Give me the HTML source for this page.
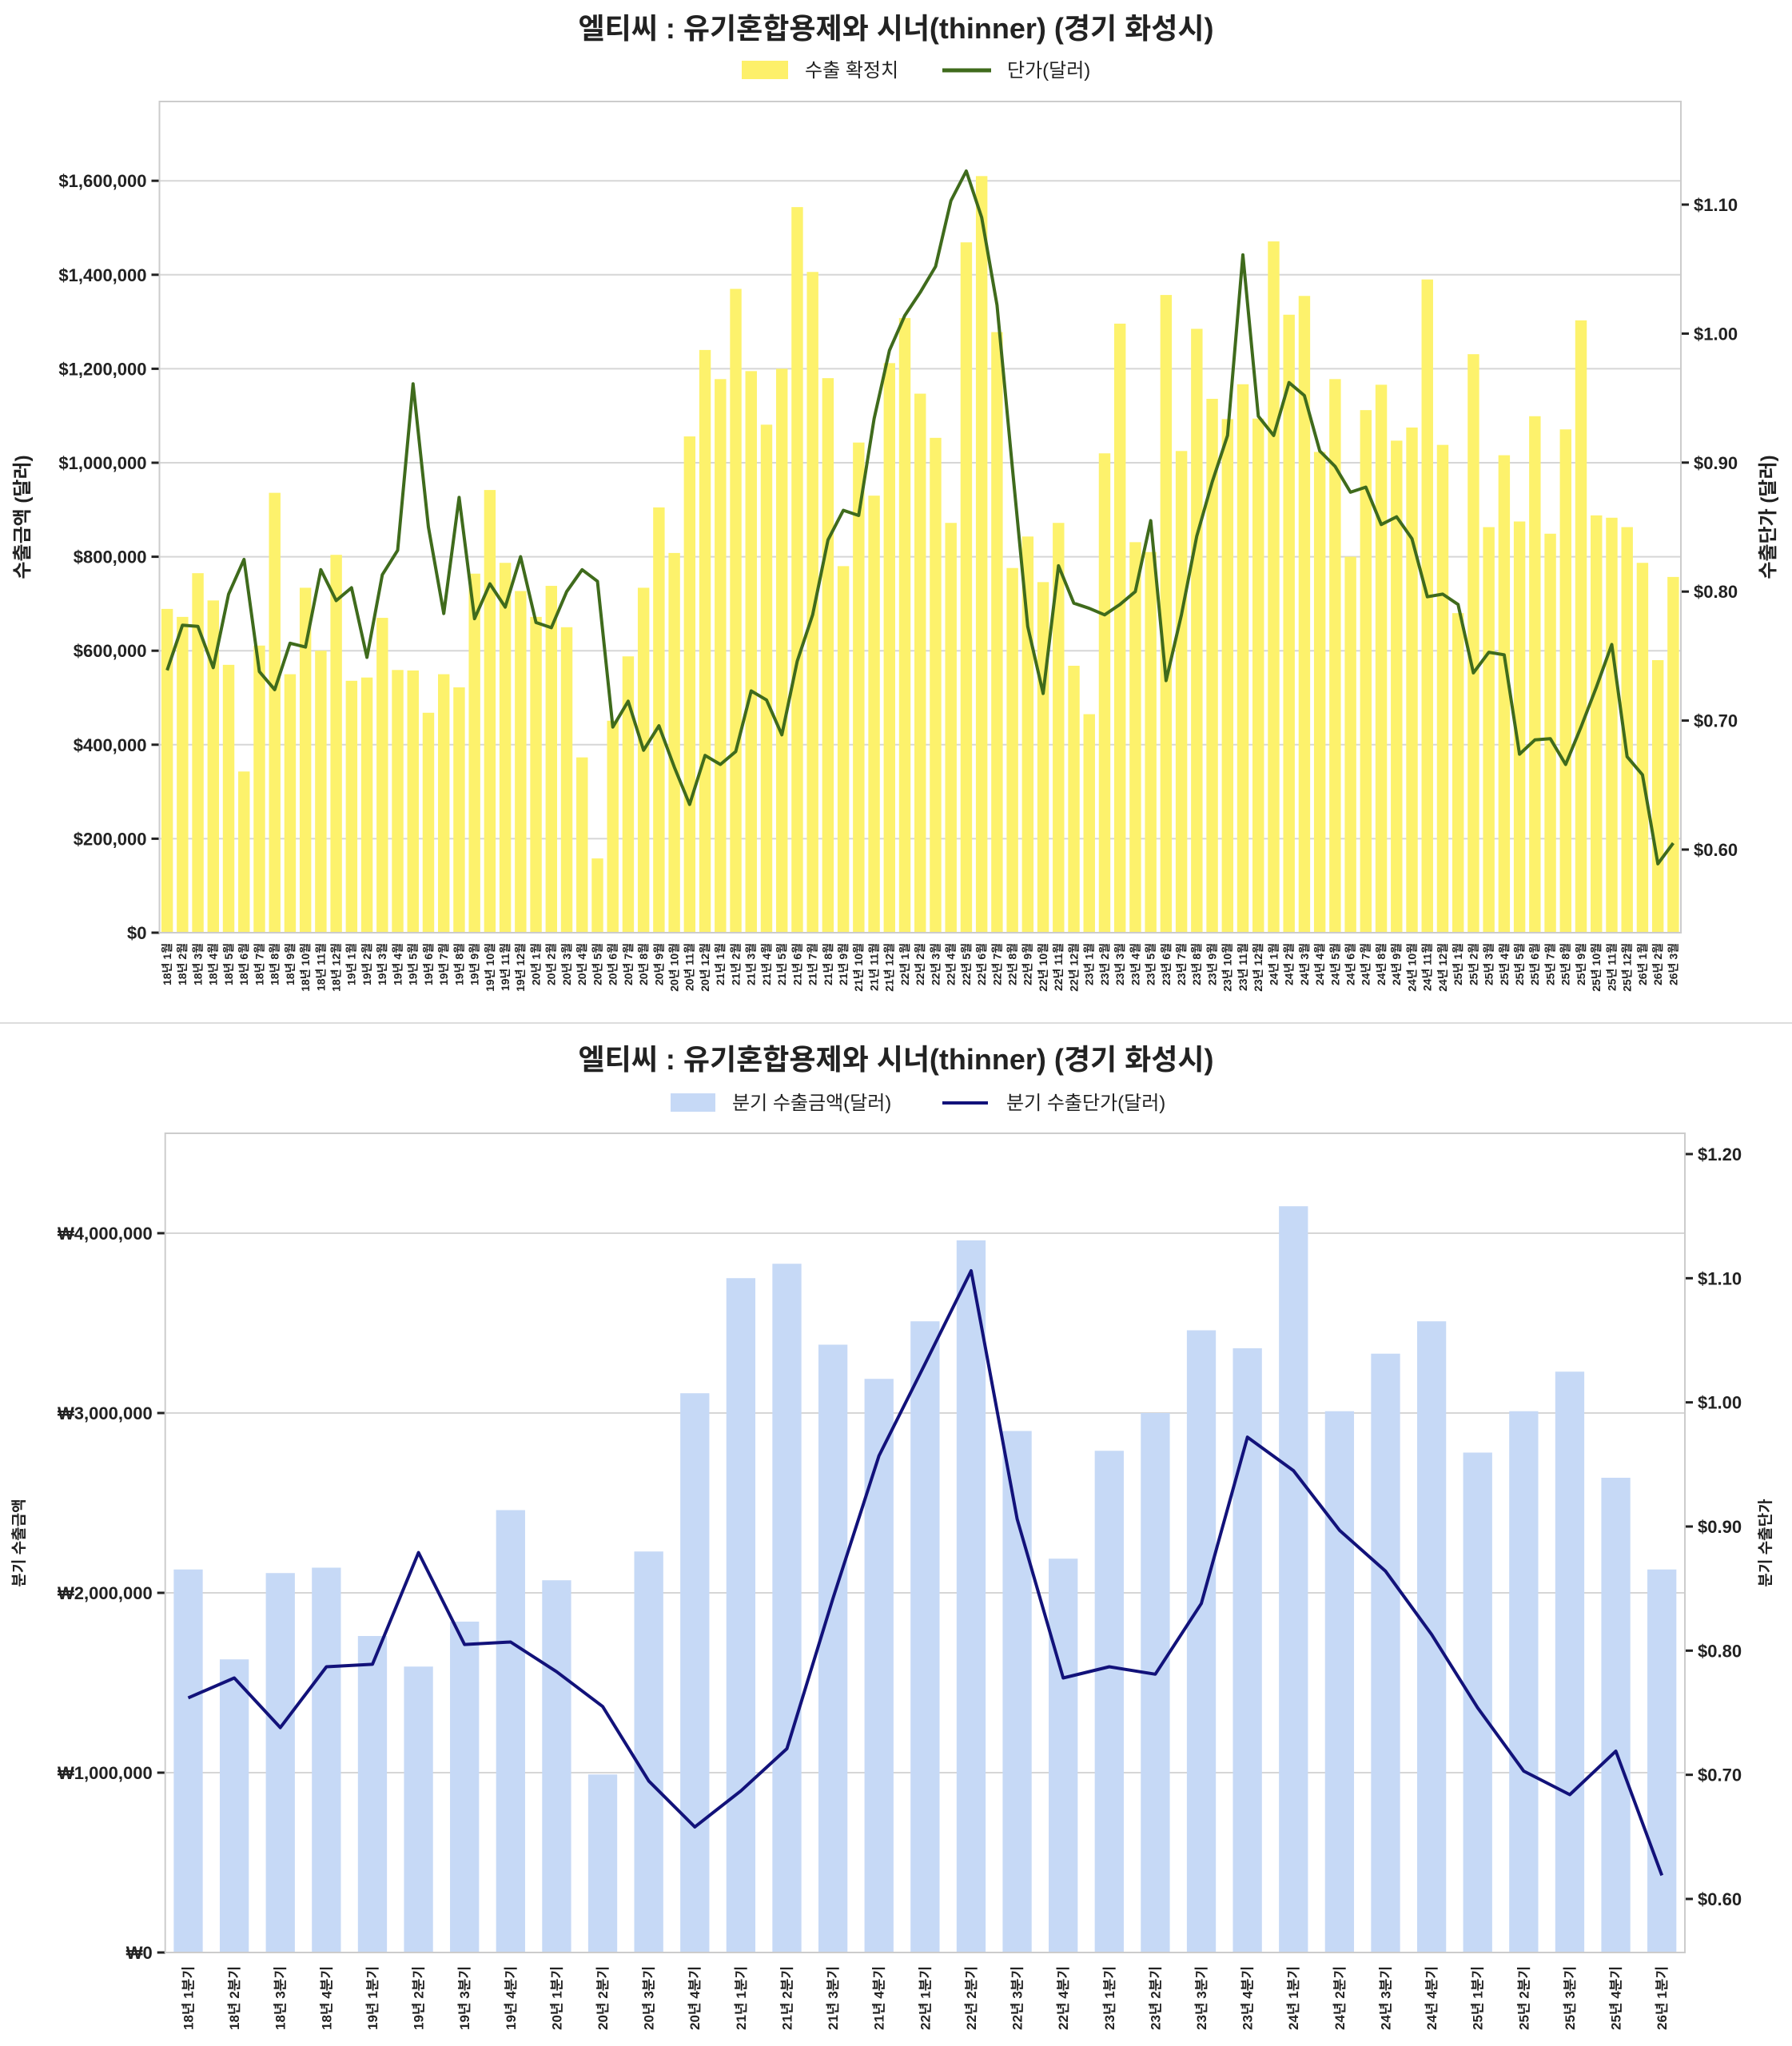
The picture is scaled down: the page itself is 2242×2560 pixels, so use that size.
<!DOCTYPE html>
<html><head><meta charset="utf-8">
<style>
html,body{margin:0;padding:0;background:#fff;}
svg{display:block;font-family:"Liberation Sans","Noto Sans CJK KR",sans-serif;}
</style></head>
<body>
<svg id="root" width="2242" height="2560" viewBox="0 0 2242 2560" xmlns="http://www.w3.org/2000/svg">
<rect x="0" y="0" width="2242" height="2560" fill="#fff"/>
<line x1="0" y1="1280" x2="2242" y2="1280" stroke="#ddd" stroke-width="2"/>
<text x="1121" y="48" text-anchor="middle" font-size="36" font-weight="bold" fill="#222">엘티씨 : 유기혼합용제와 시너(thinner) (경기 화성시)</text>
<g>
<rect x="928" y="76" width="58" height="23" fill="#fdf06a"/>
<text x="1007" y="96" font-size="24" fill="#222">수출 확정치</text>
<line x1="1179" y1="88" x2="1240" y2="88" stroke="#3f6b1c" stroke-width="5"/>
<text x="1260" y="96" font-size="24" fill="#222">단가(달러)</text>
</g>
<text x="1121" y="1338" text-anchor="middle" font-size="36" font-weight="bold" fill="#222">엘티씨 : 유기혼합용제와 시너(thinner) (경기 화성시)</text>
<g>
<rect x="839" y="1368" width="56" height="23" fill="#c6d9f6"/>
<text x="916" y="1388" font-size="24" fill="#222">분기 수출금액(달러)</text>
<line x1="1179" y1="1380" x2="1236" y2="1380" stroke="#12127a" stroke-width="4"/>
<text x="1259" y="1388" font-size="24" fill="#222">분기 수출단가(달러)</text>
</g>
<g id="top"></g>
<g id="bottom"></g>
</svg>
<script>
const monthValues = [689000,672000,765000,707000,570000,343000,611000,936000,550000,734000,600000,804000,
536000,543000,670000,559000,558000,468000,550000,522000,764000,942000,787000,727000,
672000,738000,650000,373000,158000,451000,588000,734000,905000,808000,1056000,1240000,
1178000,1370000,1195000,1081000,1200000,1544000,1406000,1180000,780000,1043000,930000,1212000,
1308000,1147000,1053000,872000,1469000,1610000,1278000,776000,843000,746000,872000,568000,
465000,1020000,1296000,831000,810000,1357000,1025000,1285000,1136000,1093000,1167000,1094000,
1471000,1315000,1355000,1023000,1178000,800000,1112000,1166000,1047000,1075000,1390000,1038000,
680000,1231000,863000,1016000,875000,1099000,849000,1071000,1303000,888000,883000,863000,
787000,580000,757000];
const monthPrices = [0.739,0.774,0.773,0.741,0.798,0.825,0.738,0.724,0.760,0.757,0.817,0.793,
0.803,0.749,0.813,0.832,0.961,0.850,0.783,0.873,0.779,0.806,0.788,0.827,
0.776,0.772,0.800,0.817,0.808,0.695,0.715,0.677,0.696,0.664,0.635,0.673,
0.666,0.676,0.723,0.716,0.689,0.746,0.782,0.840,0.863,0.859,0.934,0.987,
1.014,1.032,1.052,1.103,1.126,1.090,1.022,0.896,0.773,0.721,0.820,0.791,
0.787,0.782,0.790,0.800,0.855,0.731,0.782,0.843,0.885,0.921,1.061,0.936,
0.921,0.962,0.952,0.909,0.897,0.877,0.881,0.852,0.858,0.841,0.796,0.798,
0.790,0.737,0.753,0.751,0.674,0.685,0.686,0.666,0.695,0.726,0.759,0.672,
0.658,0.589,0.605];
const monthLabels = [];
for (let y = 18; y <= 26; y++) for (let m = 1; m <= 12; m++) { if (y === 26 && m > 3) break; monthLabels.push(y + '년 ' + m + '월'); }
const topLeftTicks = [0,200000,400000,600000,800000,1000000,1200000,1400000,1600000];
const topRightTicks = [0.60,0.70,0.80,0.90,1.00,1.10];

const quarterValues = [2130000,1630000,2110000,2140000,1760000,1590000,1840000,2460000,2070000,990000,2230000,3110000,
3750000,3830000,3380000,3190000,3510000,3960000,2900000,2190000,2790000,3000000,3460000,3360000,
4150000,3010000,3330000,3510000,2780000,3010000,3230000,2640000,2130000];
const quarterPrices = [0.762,0.778,0.738,0.787,0.789,0.879,0.805,0.807,0.783,0.755,0.695,0.658,
0.687,0.721,0.842,0.957,1.031,1.106,0.906,0.778,0.787,0.781,0.838,0.972,
0.945,0.897,0.864,0.813,0.754,0.703,0.684,0.719,0.619];
const quarterLabels = [];
for (let y = 18; y <= 26; y++) for (let q = 1; q <= 4; q++) { if (y === 26 && q > 1) break; quarterLabels.push(y + '년 ' + q + '분기'); }
const botLeftTicks = [0,1000000,2000000,3000000,4000000];
const botRightTicks = [0.60,0.70,0.80,0.90,1.00,1.10,1.20];

const NS = 'http://www.w3.org/2000/svg';
function mk(parent, tag, attrs, text) {
  const e = document.createElementNS(NS, tag);
  for (const k in attrs) e.setAttribute(k, attrs[k]);
  if (text !== undefined) e.textContent = text;
  parent.appendChild(e);
  return e;
}
function fmt(v){ return v.toLocaleString('en-US'); }

function drawChart(g, cfg) {
  const {L,R,T,B,yMax,pMin,pMax,values,prices,labels,leftTicks,rightTicks,barFrac,barColor,lineColor,lineW,leftPrefix,leftTitle,rightTitle,titleSize,labelSize,labelFont,labelTop} = cfg;
  const n = values.length;
  const pitch = (R - L) / n;
  const xC = i => L + pitch * (i + 0.5);
  const yV = v => B - (v / yMax) * (B - T);
  const yP = p => B - ((p - pMin) / (pMax - pMin)) * (B - T);
  leftTicks.forEach(t => {
    const y = yV(t);
    const gl = mk(g,'line',{x1:L,x2:R,y1:y,y2:y,stroke:'#d6d6d6','stroke-width':2});
    
    
    const tk = mk(g,'line',{x1:L-10,x2:L,y1:y,y2:y,stroke:'#222','stroke-width':3});
    
    
    const tl = mk(g,'text',{x:L-16,y:y+8,'text-anchor':'end','font-size':22,'font-weight':'bold',fill:'#222'}, leftPrefix + fmt(t));
    
    
  });
  rightTicks.forEach(t => {
    const y = yP(t);
    const tk = mk(g,'line',{x1:R,x2:R+10,y1:y,y2:y,stroke:'#222','stroke-width':3});
    
    
    const tl = mk(g,'text',{x:R+16,y:y+8,'font-size':22,'font-weight':'bold',fill:'#222'}, '$' + t.toFixed(2));
    
    
  });
  const bw = pitch * barFrac;
  values.forEach((v,i) => {
    const y = yV(v);
    const b = mk(g,'rect',{x:xC(i)-bw/2,y:y,width:bw,height:B-y,fill:barColor});
    
    
  });
  const pts = prices.map((p,i) => xC(i).toFixed(1) + ',' + yP(p).toFixed(1)).join(' ');
  const pl = mk(g,'polyline',{points:pts,fill:'none',stroke:lineColor,'stroke-width':lineW,'stroke-linejoin':'round'});
  
  
  const fr = mk(g,'rect',{x:L,y:T,width:R-L,height:B-T,fill:'none',stroke:'#cccccc','stroke-width':2});
  
  
  labels.forEach((s,i) => {
    const x = xC(i);
    const t = mk(g,'text',{x:0,y:0,'text-anchor':'end','font-size':labelSize,'font-weight':labelFont,fill:'#222',transform:'translate(' + (x + labelSize*0.35).toFixed(1) + ',' + labelTop + ') rotate(-90)'}, s);
    
    
  });
  const cy = (T + B) / 2;
  const lt = mk(g,'text',{x:0,y:0,'text-anchor':'middle','font-size':titleSize,'font-weight':'bold',fill:'#222',transform:'translate(' + cfg.leftTitleX + ',' + cy + ') rotate(-90)'}, leftTitle);
  
  
  const rt = mk(g,'text',{x:0,y:0,'text-anchor':'middle','font-size':titleSize,'font-weight':'bold',fill:'#222',transform:'translate(' + cfg.rightTitleX + ',' + cy + ') rotate(-90)'}, rightTitle);
  
  
}

drawChart(document.getElementById('top'), {
  L:199.5,R:2103,T:127,B:1167,
  yMax:(1167-127)/117.6*200000,
  pMin:0.60-(1167-1063)/1614,pMax:0.60+(1063-127)/1614,
  values:monthValues,prices:monthPrices,labels:monthLabels,
  leftTicks:topLeftTicks,rightTicks:topRightTicks,
  barFrac:0.75,barColor:'#fdf26c',lineColor:'#3f6b1c',lineW:4,
  leftPrefix:'$',leftTitle:'수출금액 (달러)',rightTitle:'수출단가 (달러)',
  titleSize:24,labelSize:14,labelFont:'bold',labelTop:1180,leftTitleX:36,rightTitleX:2220
});
drawChart(document.getElementById('bottom'), {
  L:206.7,R:2108,T:1418,B:2443,
  yMax:(2443-1418)/225*1000000,
  pMin:0.60-(2443-2376)/1553,pMax:1.20+(1444-1418)/1553,
  values:quarterValues,prices:quarterPrices,labels:quarterLabels,
  leftTicks:botLeftTicks,rightTicks:botRightTicks,
  barFrac:0.63,barColor:'#c6d9f6',lineColor:'#12127a',lineW:4,
  leftPrefix:'₩',leftTitle:'분기 수출금액',rightTitle:'분기 수출단가',
  titleSize:19,labelSize:17,labelFont:'bold',labelTop:2460,leftTitleX:30,rightTitleX:2215
});
</script>
</body></html>
